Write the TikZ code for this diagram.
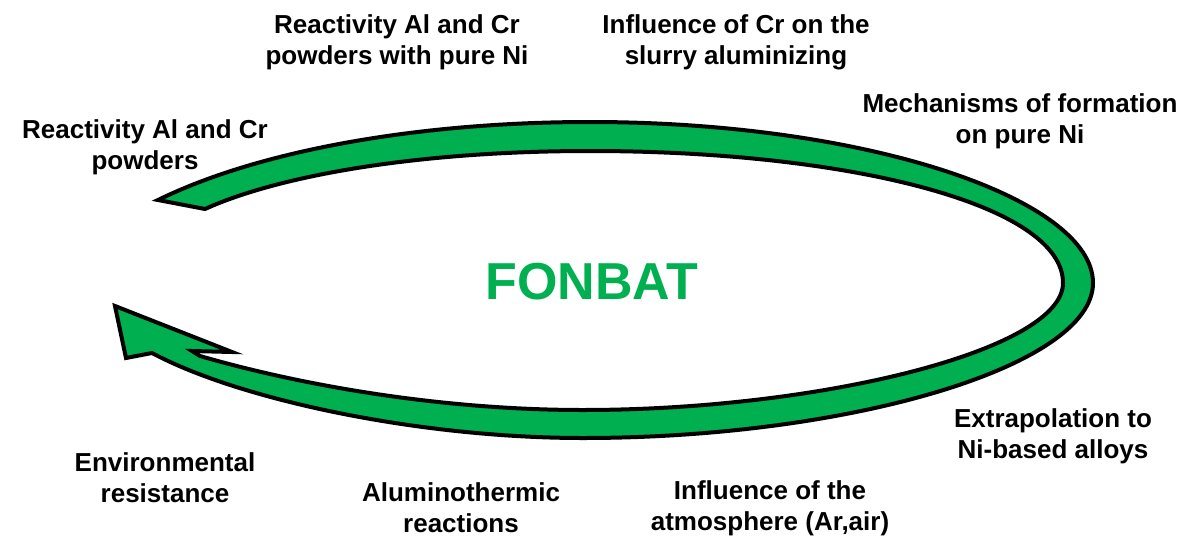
\documentclass[tikz,border=0pt]{standalone}
\usepackage{fontspec}
\setmainfont{Liberation Sans}
\definecolor{fongreen}{HTML}{00B050}
\tikzset{
  topic/.style={align=center,inner sep=0pt,font=\bfseries\fontsize{26}{31}\selectfont},
  arrowband/.style={fill=fongreen,draw=black,line width=4pt,line join=miter}
}

\begin{document}
\begin{tikzpicture}[x=1pt,y=-1pt]
  \useasboundingbox (0,0) rectangle (1185,538);
  % cycle arrow: outer edge, head, inner edge back to the tail
  \draw[arrowband] (158,200) .. controls (260,150) and (420,122) .. (590,122)
    .. controls (870,122) and (1093,200) .. (1093,283)
    .. controls (1093,366) and (850,438) .. (583,438)
    .. controls (420,438) and (240,400) .. (152,353)
    -- (126,358) -- (115,306) -- (232,352) -- (192,351) -- (200,356)
    .. controls (300,385) and (440,410) .. (583,410)
    .. controls (820,410) and (1063,350) .. (1063,283)
    .. controls (1063,205) and (850,151) .. (590,151)
    .. controls (420,151) and (280,175) .. (205,209)
    -- cycle;
  \node[font=\bfseries\fontsize{52}{60}\selectfont,text=fongreen] (fonbat) at (592,282) {FONBAT};
  \node[topic] (powders) at (145,147) {Reactivity Al and Cr\\powders};
  \node[topic] (purereact) at (397,42) {Reactivity Al and Cr\\powders with pure Ni};
  \node[topic] (slurry) at (736,42) {Influence of Cr on the\\slurry aluminizing};
  \node[topic] (mechanisms) at (1020,121) {Mechanisms of formation\\on pure Ni};
  \node[topic] (alloys) at (1053,436) {Extrapolation to\\Ni-based alloys};
  \node[topic] (atmosphere) at (770,508) {Influence of the\\atmosphere (Ar,air)};
  \node[topic] (alumino) at (461,508) {Aluminothermic\\reactions};
  \node[topic] (environment) at (165,478) {Environmental\\resistance};
\end{tikzpicture}
\end{document}
